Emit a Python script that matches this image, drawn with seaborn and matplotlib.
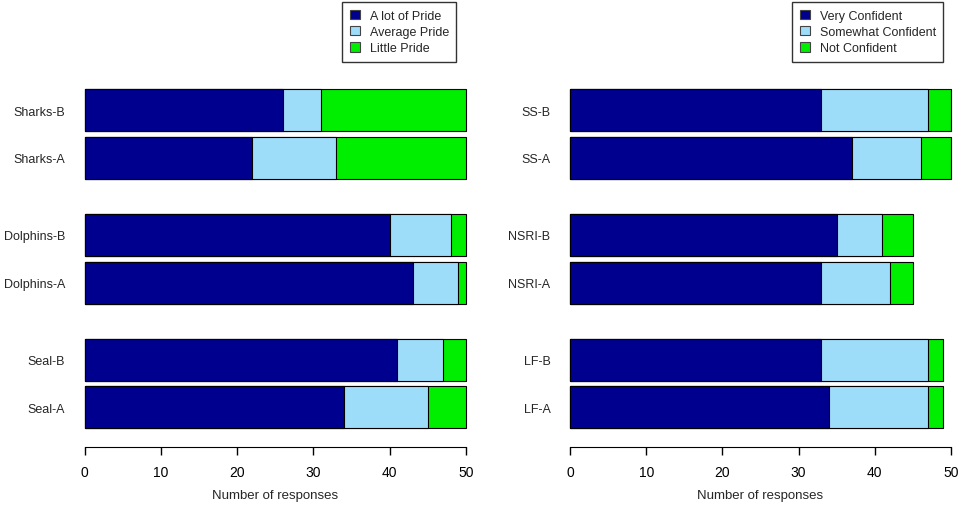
import matplotlib
matplotlib.use("Agg")
import matplotlib.pyplot as plt
from matplotlib.patches import Patch
import numpy as np
import seaborn as sns

sns.set_style("white")
plt.rcParams['font.family'] = ['Liberation Sans', 'DejaVu Sans']
plt.rcParams['font.size'] = 9

# ---- Data (bottom to top) ----
pride_labels = ["Seal-A", "Seal-B", "Dolphins-A", "Dolphins-B", "Sharks-A", "Sharks-B"]
pride_lot = [34, 41, 43, 40, 22, 26]
pride_avg = [11, 6, 6, 8, 11, 5]
pride_little = [5, 3, 1, 2, 17, 19]

conf_labels = ["LF-A", "LF-B", "NSRI-A", "NSRI-B", "SS-A", "SS-B"]
conf_very = [34, 33, 33, 35, 37, 33]
conf_some = [13, 14, 9, 6, 9, 14]
conf_not = [2, 2, 3, 4, 4, 3]

pride_legend = ["A lot of Pride", "Average Pride", "Little Pride"]
conf_legend = ["Very Confident", "Somewhat Confident", "Not Confident"]

colors = ["#00008F", "#9DDDFA", "#00EE00"]

# bar positions: pairs with a wider gap between groups
step, group_step = 1.14, 2.97
pos = np.array([g * group_step + k * step for g in range(3) for k in range(2)])

fig = plt.figure(figsize=(9.61, 5.06), dpi=100)
W, H = 961, 506
ax_bottom = (H - 440) / H
ax_height = (440 - 85) / H
ax1 = fig.add_axes([84.5 / W, ax_bottom, (466 - 84.5) / W, ax_height])
ax2 = fig.add_axes([570 / W, ax_bottom, (951 - 570) / W, ax_height])


def stacked(ax, labels, a, b, c, legend_labels, leg_x):
    a = np.array(a)
    b = np.array(b)
    c = np.array(c)
    # draw cumulative totals back to front
    for vals, col in [(a + b + c, colors[2]), (a + b, colors[1]), (a, colors[0])]:
        sns.barplot(x=vals, y=pos, orient="h", native_scale=True, color=col,
                    saturation=1, edgecolor="black", linewidth=0.8,
                    width=1 / step, ax=ax)
    for p in ax.patches:
        p.set_clip_on(False)
    ax.set_xlim(0, 50)
    ax.set_ylim(-0.75, 7.70)
    ax.set_yticks(pos)
    ax.set_yticklabels(labels)
    ax.tick_params(axis="y", length=0, pad=14)
    ax.set_xticks([0, 10, 20, 30, 40, 50])
    ax.tick_params(axis="x", direction="out", length=6, width=1,
                   bottom=True, pad=7, colors="black", labelsize=10)
    for s in ["left", "right", "top"]:
        ax.spines[s].set_visible(False)
    ax.spines["bottom"].set_position(("outward", 6))
    ax.spines["bottom"].set_bounds(0, 50)
    ax.spines["bottom"].set_color("black")
    ax.set_xlabel("Number of responses", labelpad=7, fontsize=9.5)
    ax.set_ylabel("")
    handles = [Patch(facecolor=col, edgecolor="#444444", linewidth=0.8) for col in colors]
    leg = fig.legend(handles, legend_labels, loc="upper left",
                     bbox_to_anchor=(leg_x / W, 1 - 3 / H), borderaxespad=0,
                     frameon=True, fancybox=False, edgecolor="black",
                     handlelength=0.8, handleheight=0.8, handletextpad=0.8,
                     labelspacing=0.34, borderpad=0.6, fontsize=9)
    leg.get_frame().set_linewidth(1.0)


stacked(ax1, pride_labels, pride_lot, pride_avg, pride_little, pride_legend, 342)
stacked(ax2, conf_labels, conf_very, conf_some, conf_not, conf_legend, 792)

fig.savefig("out.png", dpi=100)
